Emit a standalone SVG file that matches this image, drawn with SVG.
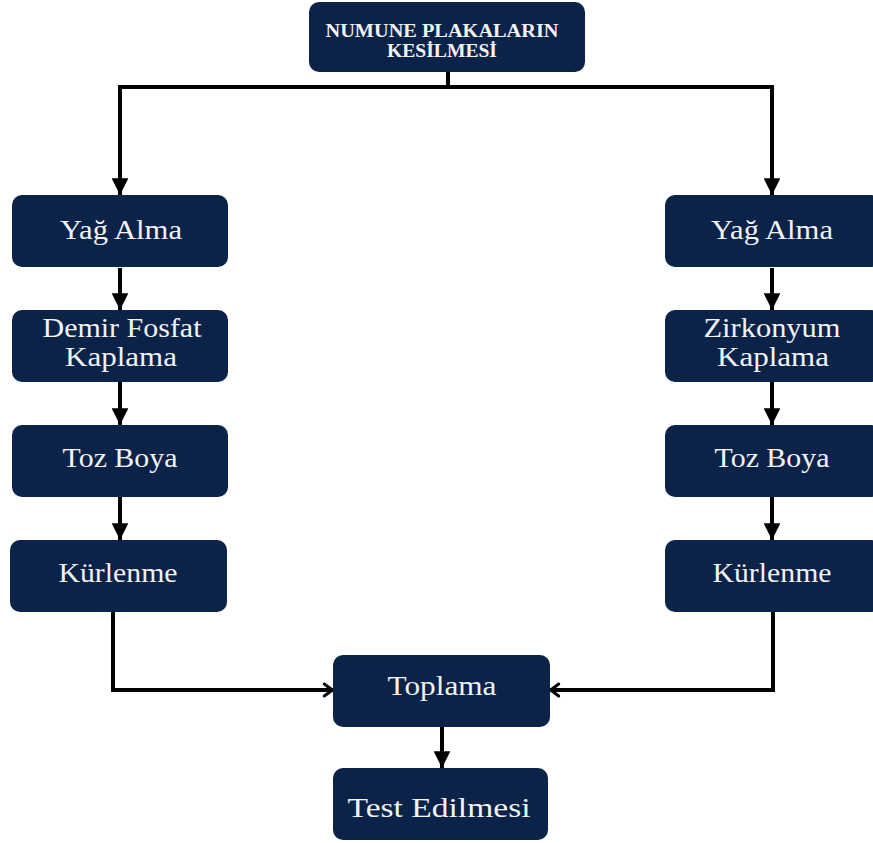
<svg xmlns="http://www.w3.org/2000/svg" width="873" height="843" viewBox="0 0 873 843">
<style>
.box{fill:#0b2349;}
.t{font-family:"Liberation Serif","Times New Roman",serif;font-size:27px;fill:#f2f2f2;text-anchor:middle;}
.tb{font-family:"Liberation Serif","Times New Roman",serif;font-size:18px;font-weight:bold;fill:#f2f2f2;text-anchor:middle;}
.ln{fill:none;stroke:#000;stroke-width:4;}
</style>
<defs>
<marker id="ah" viewBox="0 0 10 10" refX="10" refY="5" markerWidth="4.2" markerHeight="4.2" markerUnits="strokeWidth" orient="auto">
<path d="M0,0 L10,5 L0,10 z" fill="#000"/>
</marker>
<marker id="ch" viewBox="0 0 12 12" refX="10.5" refY="6" markerWidth="4" markerHeight="4" markerUnits="strokeWidth" orient="auto">
<path d="M4,1.5 L10,6 L4,10.5" fill="none" stroke="#000" stroke-width="2.2" stroke-linecap="round" stroke-linejoin="round"/>
</marker>
</defs>
<g id="connectors">
<line class="ln" x1="448" y1="72" x2="448" y2="87"/>
<path class="ln" d="M120,195 L120,87 L772,87 L772,195"/>
<path class="ln" d="M120,87 L120,195" marker-end="url(#ah)"/>
<path class="ln" d="M772,87 L772,195" marker-end="url(#ah)"/>
<line class="ln" x1="120" y1="268" x2="120" y2="310" marker-end="url(#ah)"/>
<line class="ln" x1="120" y1="382" x2="120" y2="425" marker-end="url(#ah)"/>
<line class="ln" x1="120" y1="497" x2="120" y2="540" marker-end="url(#ah)"/>
<line class="ln" x1="772" y1="268" x2="772" y2="310" marker-end="url(#ah)"/>
<line class="ln" x1="772" y1="382" x2="772" y2="425" marker-end="url(#ah)"/>
<line class="ln" x1="772" y1="497" x2="772" y2="540" marker-end="url(#ah)"/>
<path class="ln" d="M113,612 L113,690 L333,690" marker-end="url(#ch)"/>
<path class="ln" d="M773,612 L773,690 L550,690" marker-end="url(#ch)"/>
<line class="ln" x1="442" y1="727" x2="442" y2="768" marker-end="url(#ah)"/>
</g>
<g id="n-top"><rect class="box" x="309" y="2" width="276" height="70" rx="10"/>
<text class="tb" x="442" y="37" textLength="233" lengthAdjust="spacingAndGlyphs">NUMUNE PLAKALARIN</text><text class="tb" x="442" y="57" textLength="110" lengthAdjust="spacingAndGlyphs">KESİLMESİ</text></g>
<g id="n-l1"><rect class="box" x="12" y="195" width="216" height="72" rx="10"/><text class="t" x="121" y="239" textLength="122" lengthAdjust="spacingAndGlyphs">Yağ Alma</text></g>
<g id="n-l2"><rect class="box" x="12" y="310" width="216" height="72" rx="10"/><text class="t" x="122" y="337" textLength="159" lengthAdjust="spacingAndGlyphs">Demir Fosfat</text><text class="t" x="121" y="366" textLength="112" lengthAdjust="spacingAndGlyphs">Kaplama</text></g>
<g id="n-l3"><rect class="box" x="12" y="425" width="216" height="72" rx="10"/><text class="t" x="120" y="467" textLength="115" lengthAdjust="spacingAndGlyphs">Toz Boya</text></g>
<g id="n-l4"><rect class="box" x="10" y="540" width="217" height="72" rx="10"/><text class="t" x="118" y="582" textLength="119" lengthAdjust="spacingAndGlyphs">Kürlenme</text></g>
<g id="n-r1"><rect class="box" x="665" y="195" width="216" height="72" rx="10"/><text class="t" x="772" y="239" textLength="122" lengthAdjust="spacingAndGlyphs">Yağ Alma</text></g>
<g id="n-r2"><rect class="box" x="665" y="310" width="216" height="72" rx="10"/><text class="t" x="772" y="337" textLength="137" lengthAdjust="spacingAndGlyphs">Zirkonyum</text><text class="t" x="773" y="366" textLength="112" lengthAdjust="spacingAndGlyphs">Kaplama</text></g>
<g id="n-r3"><rect class="box" x="665" y="425" width="216" height="72" rx="10"/><text class="t" x="772" y="467" textLength="115" lengthAdjust="spacingAndGlyphs">Toz Boya</text></g>
<g id="n-r4"><rect class="box" x="665" y="540" width="216" height="72" rx="10"/><text class="t" x="772" y="582" textLength="119" lengthAdjust="spacingAndGlyphs">Kürlenme</text></g>
<g id="n-top2"><rect class="box" x="333" y="655" width="217" height="72" rx="10"/><text class="t" x="442" y="695" textLength="109" lengthAdjust="spacingAndGlyphs">Toplama</text></g>
<g id="n-test"><rect class="box" x="333" y="768" width="215" height="72" rx="10"/><text class="t" x="439" y="817" textLength="183" lengthAdjust="spacingAndGlyphs">Test Edilmesi</text></g>
</svg>
